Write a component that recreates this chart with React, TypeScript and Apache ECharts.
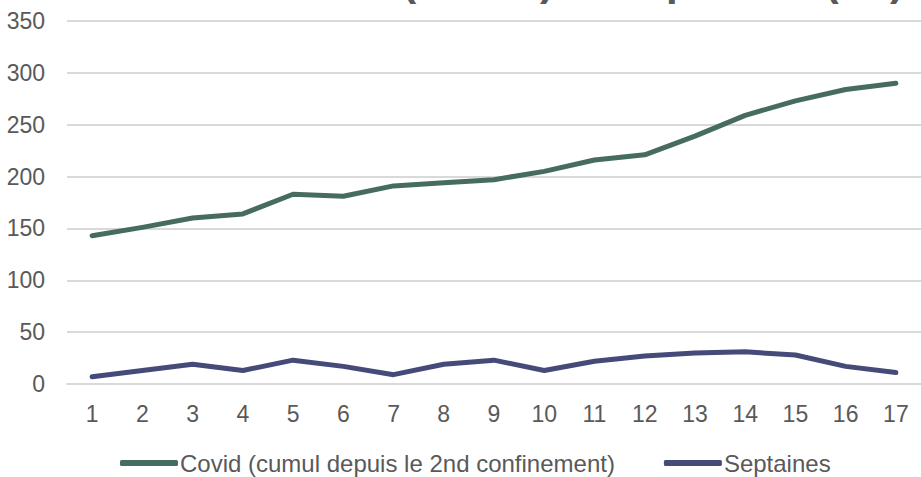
import React, { useEffect, useRef } from "react";
import * as echarts from "echarts";

const categories = ["1","2","3","4","5","6","7","8","9","10","11","12","13","14","15","16","17"];
const covidValues = [143, 151, 160, 164, 183, 181, 191, 194, 197, 205, 216, 221, 239, 259, 273, 284, 290];
const septainesValues = [7, 13, 19, 13, 23, 17, 9, 19, 23, 13, 22, 27, 30, 31, 28, 17, 11];
const seriesNames = ["Covid (cumul depuis le 2nd confinement)", "Septaines"];
const titleText = "Covid (cumul) et Septaines (nb)";

const FONT = "Liberation Sans, Arial, sans-serif";

export default function App() {
  const ref = useRef<HTMLDivElement>(null);
  useEffect(() => {
    if (!ref.current) return;
    const chart = echarts.init(ref.current, undefined, { renderer: "svg" });
    chart.setOption({
      animation: false,
      backgroundColor: "#ffffff",
      textStyle: { fontFamily: FONT },
      graphic: [
        {
          type: "text",
          x: 274,
          y: -20,
          silent: true,
          style: {
            text: titleText,
            font: "bold 42px " + FONT,
            fill: "#595959",
            textAlign: "left",
            textVerticalAlign: "middle",
          },
        },
      ],
      grid: { left: 67, right: 0, top: 21, bottom: 93, containLabel: false },
      legend: {
        left: 115,
        top: 445,
        itemWidth: 58,
        itemHeight: 6,
        itemGap: 49,
        icon: "roundRect",
        textStyle: { color: "#595959", fontSize: 24, fontFamily: FONT, padding: [0, 0, 0, -3], lineHeight: 26 },
        data: seriesNames,
      },
      xAxis: {
        type: "category",
        data: categories,
        boundaryGap: true,
        axisTick: { show: false },
        axisLine: { lineStyle: { color: "#d9d9d9", width: 2 } },
        axisLabel: { color: "#595959", fontSize: 23, margin: 18, fontFamily: FONT },
      },
      yAxis: {
        type: "value",
        min: 0,
        max: 350,
        interval: 50,
        axisLine: { show: false },
        axisTick: { show: false },
        splitLine: { lineStyle: { color: "#d9d9d9", width: 2 } },
        axisLabel: { color: "#595959", fontSize: 23, margin: 22, fontFamily: FONT },
      },
      series: [
        {
          name: seriesNames[0],
          type: "line",
          data: covidValues,
          symbol: "none",
          itemStyle: { color: "#466C62" },
          lineStyle: { color: "#466C62", width: 5, cap: "round", join: "round" },
        },
        {
          name: seriesNames[1],
          type: "line",
          data: septainesValues,
          symbol: "none",
          itemStyle: { color: "#464A78" },
          lineStyle: { color: "#464A78", width: 5, cap: "round", join: "round" },
        },
      ],
    });
    return () => chart.dispose();
  }, []);
  return (
    <div
      ref={ref}
      style={{ position: "fixed", left: 0, top: 0, width: 921, height: 477, background: "#fff" }}
    />
  );
}
